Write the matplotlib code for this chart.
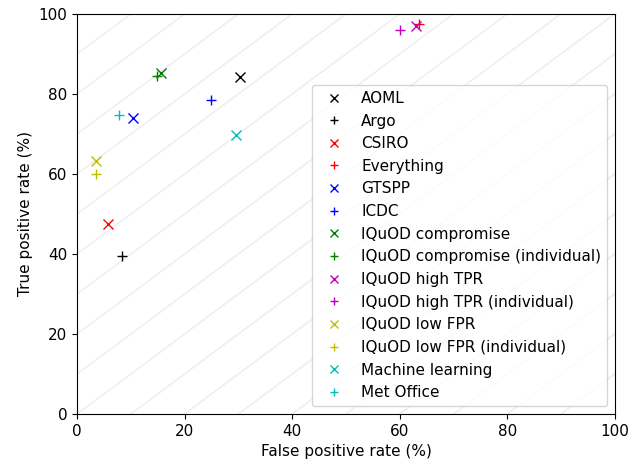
import numpy as np
import matplotlib
matplotlib.use('Agg')
from matplotlib import pyplot as plt

# false positive / true positive rates (%) per QC scheme
names = ['AOML', 'Argo', 'CSIRO', 'Everything', 'GTSPP', 'ICDC',
         'IQuOD compromise', 'IQuOD compromise (individual)',
         'IQuOD high TPR', 'IQuOD high TPR (individual)',
         'IQuOD low FPR', 'IQuOD low FPR (individual)',
         'Machine learning', 'Met Office']
fpr = [30.3, 8.4, 5.8, 63.5, 10.4, 24.9, 15.6, 14.9, 63.0, 60.0, 3.5, 3.5, 29.5, 7.7]
tpr = [84.3, 39.5, 47.4, 97.4, 74.0, 78.4, 85.1, 84.4, 97.0, 96.0, 63.2, 60.0, 69.8, 74.6]
colours = ['k', 'k', 'r', 'r', 'b', 'b', 'g', 'g', 'm', 'm', 'y', 'y', 'c', 'c']
markers = ['x', '+'] * 7

# constant (TPR - FPR) guide lines
offsets = np.arange(-100, 101, 10)

if __name__ == '__main__':
    plt.rcParams['font.size'] = 11
    fig = plt.figure(figsize=(6.28, 4.63), dpi=100)
    ax = fig.add_axes([0.123, 0.106, 0.856, 0.864])

    xx = np.array([0, 100])
    for c in offsets:
        ax.plot(xx, xx + c, color='0.5', alpha=0.15, lw=1, zorder=0)

    for i in range(len(names)):
        ax.plot(fpr[i], tpr[i], linestyle='none', marker=markers[i],
                color=colours[i], markersize=7, label=names[i])

    ax.set_xlim(0, 100)
    ax.set_ylim(0, 100)
    ax.set_xlabel('False positive rate (%)')
    ax.set_ylabel('True positive rate (%)')
    ax.legend(loc='lower right', numpoints=1, fontsize=11, markerscale=0.85)

    plt.savefig('out.png', dpi=100)
